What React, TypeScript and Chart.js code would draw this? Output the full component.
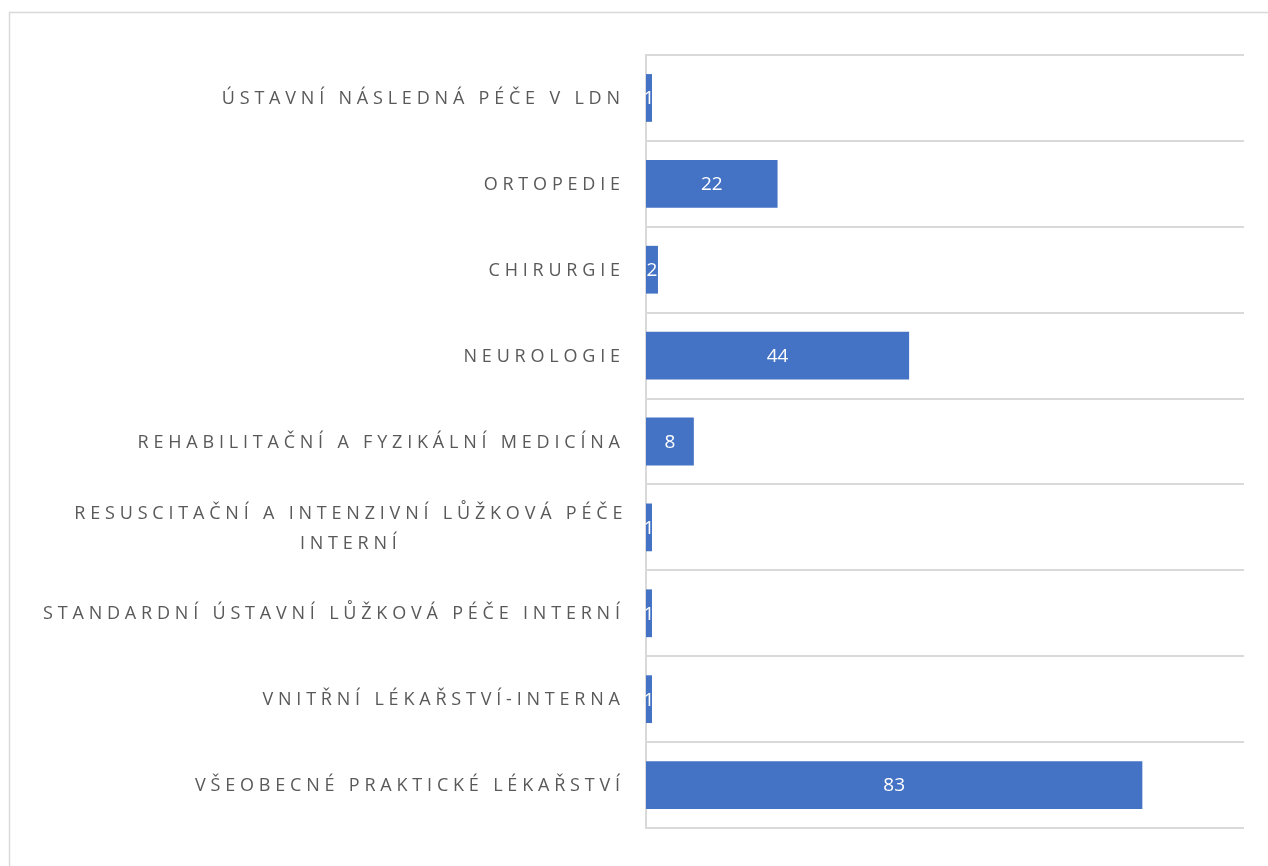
import React, { useEffect, useRef } from "react";
import { Chart, registerables } from "chart.js";

Chart.register(...registerables);

const categories: (string | string[])[] = [
  "ÚSTAVNÍ NÁSLEDNÁ PÉČE V LDN",
  "ORTOPEDIE",
  "CHIRURGIE",
  "NEUROLOGIE",
  "REHABILITAČNÍ A FYZIKÁLNÍ MEDICÍNA",
  ["RESUSCITAČNÍ A INTENZIVNÍ LŮŽKOVÁ PÉČE", "INTERNÍ"],
  "STANDARDNÍ ÚSTAVNÍ LŮŽKOVÁ PÉČE INTERNÍ",
  "VNITŘNÍ LÉKAŘSTVÍ-INTERNA",
  "VŠEOBECNÉ PRAKTICKÉ LÉKAŘSTVÍ",
];
const values: number[] = [1, 22, 2, 44, 8, 1, 1, 1, 83];
const axisMax = 100;

const FONT = '"Open Sans", "Noto Sans", sans-serif';
const LETTER = 4.8;

const decorPlugin = {
  id: "decor",
  beforeDraw(chart: any) {
    const ctx = chart.ctx;
    ctx.save();
    ctx.strokeStyle = "#d9d9d9";
    ctx.lineWidth = 1.5;
    ctx.strokeRect(9.5, 12.5, chart.width + 20, chart.height + 20);
    ctx.restore();
  },
  afterDraw(chart: any) {
    const ctx = chart.ctx;
    const y = chart.scales.y;
    const x = chart.scales.x;
    ctx.save();
    // category labels
    ctx.font = `18px ${FONT}`;
    ctx.fillStyle = "#595959";
    ctx.textBaseline = "middle";
    (ctx as any).letterSpacing = `${LETTER}px`;
    const rightEdge = 620;
    categories.forEach((c, i) => {
      const cy = y.getPixelForValue(i) + 1;
      const lines = Array.isArray(c) ? c : [c];
      const lh = 30;
      if (lines.length === 1) {
        ctx.textAlign = "right";
        ctx.fillText(lines[0], rightEdge + LETTER, cy);
      } else {
        const widths = lines.map((l) => ctx.measureText(l).width);
        const maxW = Math.max(...widths);
        const center = rightEdge + LETTER - maxW / 2;
        ctx.textAlign = "center";
        lines.forEach((l, k) => {
          const ly = cy + (k - (lines.length - 1) / 2) * lh;
          ctx.fillText(l, center + LETTER / 2, ly);
        });
      }
    });
    // value labels
    (ctx as any).letterSpacing = "0px";
    ctx.font = `19px ${FONT}`;
    ctx.fillStyle = "#ffffff";
    ctx.textAlign = "center";
    values.forEach((v, i) => {
      const cy = y.getPixelForValue(i);
      const x0 = x.getPixelForValue(0);
      const x1 = x.getPixelForValue(v);
      ctx.fillText(String(v), (x0 + x1) / 2, cy + 1);
    });
    ctx.restore();
  },
};

export default function App() {
  const ref = useRef<HTMLCanvasElement>(null);
  useEffect(() => {
    document.body.style.margin = "0";
    const chart = new Chart(ref.current!, {
      type: "bar",
      data: {
        labels: categories as any,
        datasets: [
          {
            data: values,
            backgroundColor: "#4472C4",
            borderWidth: 0,
            barPercentage: 0.556,
            categoryPercentage: 1,
          },
        ],
      },
      options: {
        indexAxis: "y",
        animation: false,
        responsive: false,
        maintainAspectRatio: false,
        layout: { padding: { left: 646, right: 24, top: 55, bottom: 38 } },
        plugins: {
          legend: { display: false },
          tooltip: { enabled: false },
        },
        scales: {
          x: { display: false, min: 0, max: axisMax },
          y: {
            display: true,
            ticks: { display: false },
            grid: {
              display: true,
              color: "#d9d9d9",
              lineWidth: 2,
              drawTicks: false,
              offset: true,
            },
            border: { display: true, color: "#d9d9d9", width: 2 },
            afterFit: (s: any) => {
              s.width = 0;
            },
          } as any,
        },
      },
      plugins: [decorPlugin],
    });
    return () => chart.destroy();
  }, []);
  return (
    <div style={{ width: 1268, height: 866, overflow: "hidden" }}>
      <canvas ref={ref} width={1268} height={866} style={{ display: "block" }} />
    </div>
  );
}
